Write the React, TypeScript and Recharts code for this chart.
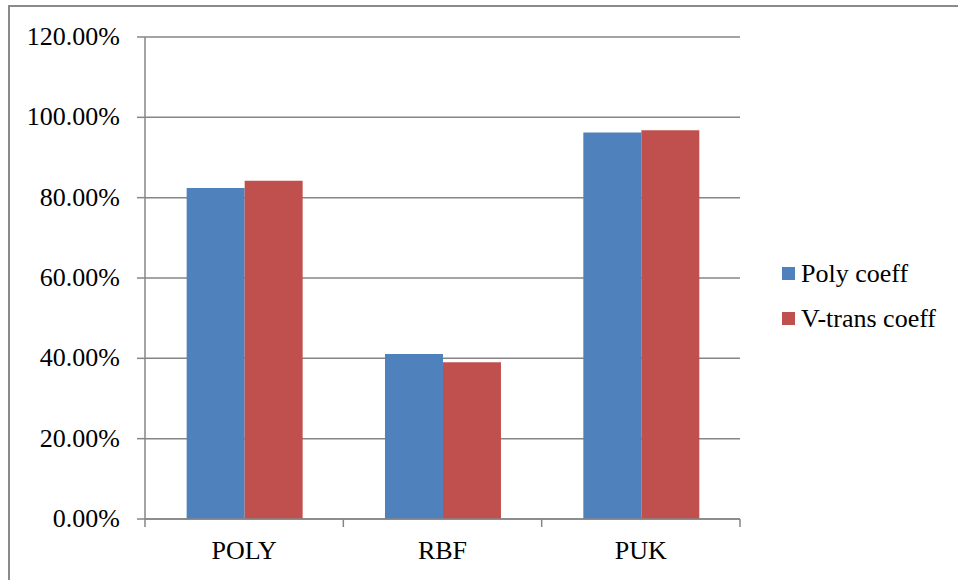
import React from 'react';
import { BarChart, Bar, XAxis, YAxis, CartesianGrid } from 'recharts';

const categories = ['POLY', 'RBF', 'PUK'];
const polyCoeff = [82.4, 41.1, 96.2];
const vTransCoeff = [84.2, 39.0, 96.8];
const yTicks = [0, 20, 40, 60, 80, 100, 120];

const seriesNames = ['Poly coeff', 'V-trans coeff'];
const seriesColors = ['#4F81BD', '#C0504D'];

const data = categories.map((name, i) => ({
  name,
  poly: polyCoeff[i],
  vtrans: vTransCoeff[i],
}));

const FONT = "'Liberation Serif', 'Times New Roman', serif";
const FONT_SIZE = 26;
const AXIS_COLOR = '#868686';

const W = 958;
const H = 580;
const X_AXIS_H = 30;
const MARGIN = { top: 37, right: 218, bottom: 61 - X_AXIS_H, left: 0 };
const Y_AXIS_W = 145;
const PLOT_W = W - MARGIN.left - MARGIN.right - Y_AXIS_W;

// category label plus tick marks on the band edges (Excel style)
const CategoryTick = (props: any) => {
  const { x, y, payload, index } = props;
  const band = PLOT_W / categories.length;
  const left = x - band / 2;
  const right = x + band / 2;
  return (
    <g>
      <line x1={left} y1={y - 8} x2={left} y2={y} stroke={AXIS_COLOR} strokeWidth={1.5} />
      {index === categories.length - 1 && (
        <line x1={right} y1={y - 8} x2={right} y2={y} stroke={AXIS_COLOR} strokeWidth={1.5} />
      )}
      <text x={x} y={y + 32} textAnchor="middle" style={{ fontFamily: FONT }} fontSize={FONT_SIZE} fill="#000">
        {payload.value}
      </text>
    </g>
  );
};

const ValueTick = (props: any) => {
  const { x, y, payload } = props;
  return (
    <text x={x} y={y} dy={8} textAnchor="end" style={{ fontFamily: FONT }} fontSize={FONT_SIZE} fill="#000">
      {payload.value.toFixed(2) + '%'}
    </text>
  );
};

export default function App() {
  return (
    <div
      style={{
        position: 'absolute',
        left: 0,
        top: 0,
        width: W,
        height: H,
        overflow: 'hidden',
        background: '#fff',
        fontFamily: FONT,
      }}
    >
      <div
        style={{
          position: 'absolute',
          left: 8,
          top: 5,
          width: W + 20,
          height: H + 20,
          borderLeft: '2px solid #8a8a8a',
          borderTop: '2px solid #8a8a8a',
        }}
      />
      <div style={{ position: 'absolute', left: 0, top: 0 }}>
        <BarChart width={W} height={H} data={data} margin={MARGIN} barCategoryGap="21%" barGap={0}>
          <CartesianGrid horizontal vertical={false} stroke={AXIS_COLOR} strokeWidth={1.5} />
          <XAxis
            dataKey="name"
            height={X_AXIS_H}
            axisLine={{ stroke: AXIS_COLOR, strokeWidth: 1.5 }}
            tickLine={false}
            tickSize={8}
            tickMargin={0}
            tick={<CategoryTick />}
            interval={0}
          />
          <YAxis
            width={Y_AXIS_W}
            domain={[0, 120]}
            ticks={yTicks}
            interval={0}
            axisLine={{ stroke: AXIS_COLOR, strokeWidth: 1.5 }}
            tickLine={{ stroke: AXIS_COLOR, strokeWidth: 1.5 }}
            tickSize={8}
            tickMargin={17}
            tick={<ValueTick />}
          />
          <Bar dataKey="poly" name={seriesNames[0]} fill={seriesColors[0]} isAnimationActive={false} />
          <Bar dataKey="vtrans" name={seriesNames[1]} fill={seriesColors[1]} isAnimationActive={false} />
        </BarChart>
      </div>
      <div style={{ position: 'absolute', left: 782, top: 251, fontSize: FONT_SIZE, color: '#000' }}>
        {seriesNames.map((n, i) => (
          <div key={n} style={{ display: 'flex', alignItems: 'center', height: 45 }}>
            <span
              style={{
                display: 'inline-block',
                width: 13,
                height: 13,
                background: seriesColors[i],
                marginRight: 6,
              }}
            />
            <span>{n}</span>
          </div>
        ))}
      </div>
    </div>
  );
}
